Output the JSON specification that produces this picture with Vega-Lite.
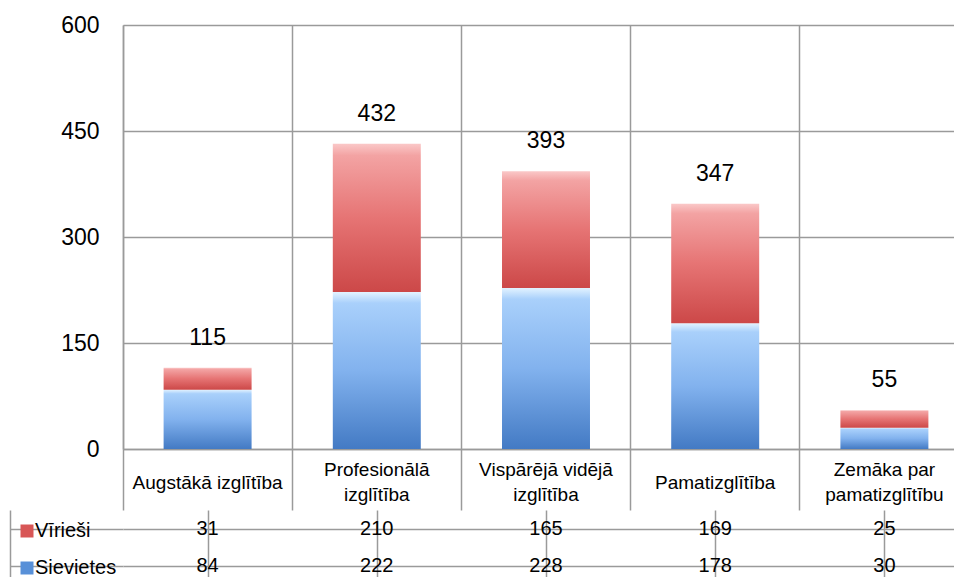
{
  "$schema": "https://vega.github.io/schema/vega-lite/v6.json",
  "background": "white",
  "padding": {"left": 9, "top": 14, "right": -14, "bottom": -7},
  "autosize": {"type": "pad"},
  "bounds": "flush",
  "spacing": 61,
  "config": {
    "view": {"stroke": null},
    "font": "Liberation Sans",
    "text": {"font": "Liberation Sans", "color": "black"}
  },
  "resolve": {"legend": {"color": "independent"}},
  "datasets": {
    "edu": [
      {"cat": "Augstākā izglītība", "series": "Vīrieši", "value": 31},
      {"cat": "Augstākā izglītība", "series": "Sievietes", "value": 84},
      {"cat": "Profesionālā izglītība", "series": "Vīrieši", "value": 210},
      {"cat": "Profesionālā izglītība", "series": "Sievietes", "value": 222},
      {"cat": "Vispārējā vidējā izglītība", "series": "Vīrieši", "value": 165},
      {"cat": "Vispārējā vidējā izglītība", "series": "Sievietes", "value": 228},
      {"cat": "Pamatizglītība", "series": "Vīrieši", "value": 169},
      {"cat": "Pamatizglītība", "series": "Sievietes", "value": 178},
      {"cat": "Zemāka par pamatizglītību", "series": "Vīrieši", "value": 25},
      {"cat": "Zemāka par pamatizglītību", "series": "Sievietes", "value": 30}
    ]
  },
  "vconcat": [
    {
      "width": 846,
      "height": 424,
      "data": {"name": "edu"},
      "transform": [
        {"stack": "value", "groupby": ["cat"], "as": ["v0", "v1"], "sort": [{"field": "series", "order": "ascending"}]}
      ],
      "encoding": {
        "x": {
          "field": "cat", "type": "nominal", "sort": null,
          "scale": {"domain": ["Augstākā izglītība", "Profesionālā izglītība", "Vispārējā vidējā izglītība", "Pamatizglītība", "Zemāka par pamatizglītību"], "paddingInner": 0, "paddingOuter": 0},
          "axis": {
            "title": null, "bandPosition": 0,
            "grid": true, "gridColor": "#9a9a9a", "gridWidth": 1.5,
            "ticks": true, "tickSize": 61, "tickColor": "#9a9a9a", "tickWidth": 1.5,
            "domain": true, "domainColor": "#9a9a9a", "domainWidth": 1.5,
            "labelOffset": 0,
            "labelPadding": {"condition": {"test": "datum.value == 'Augstākā izglītība' || datum.value == 'Pamatizglītība'", "value": -28}, "value": -41},
            "labelBaseline": "middle", "labelAlign": "center", "labelAngle": 0,
            "labelFontSize": 19, "labelLineHeight": 25, "labelColor": "black", "labelFont": "Liberation Sans",
            "labelOverlap": false, "labelBound": false, "labelFlush": false, "labelLimit": 0,
            "labelExpr": "datum.label == 'Profesionālā izglītība' ? ['Profesionālā', 'izglītība'] : datum.label == 'Vispārējā vidējā izglītība' ? ['Vispārējā vidējā', 'izglītība'] : datum.label == 'Zemāka par pamatizglītību' ? ['Zemāka par', 'pamatizglītību'] : datum.label"
          }
        }
      },
      "layer": [
        {
          "transform": [{"filter": "datum.series === 'Sievietes'"}],
          "mark": {
            "type": "bar", "width": {"band": 0.52},
            "color": {"gradient": "linear", "x1": 0, "y1": 0, "x2": 0, "y2": 1,
              "stops": [{"offset": 0, "color": "#e3f3ff"}, {"offset": 0.07, "color": "#a9d0fb"}, {"offset": 0.5, "color": "#82b2ee"}, {"offset": 1, "color": "#437ac4"}]}
          },
          "encoding": {
            "y": {"field": "v1", "type": "quantitative", "scale": {"domain": [0, 600]},
              "axis": {"title": null, "values": [0, 150, 300, 450, 600], "grid": true, "gridColor": "#9a9a9a", "gridWidth": 1.5, "ticks": false, "domain": true, "domainColor": "#9a9a9a", "domainWidth": 1.5, "labelPadding": 24, "labelFontSize": 23, "labelColor": "black", "labelFont": "Liberation Sans"}},
            "y2": {"field": "v0"}
          }
        },
        {
          "transform": [{"filter": "datum.series === 'Vīrieši'"}],
          "mark": {
            "type": "bar", "width": {"band": 0.52},
            "color": {"gradient": "linear", "x1": 0, "y1": 0, "x2": 0, "y2": 1,
              "stops": [{"offset": 0, "color": "#fac8c8"}, {"offset": 0.08, "color": "#f3a3a3"}, {"offset": 0.5, "color": "#e67474"}, {"offset": 1, "color": "#cc4848"}]}
          },
          "encoding": {
            "y": {"field": "v1", "type": "quantitative", "axis": {"title": null}},
            "y2": {"field": "v0"}
          }
        },
        {
          "mark": {"type": "text", "dy": -30, "fontSize": 23, "baseline": "middle", "font": "Liberation Sans", "color": "black"},
          "encoding": {
            "y": {"aggregate": "sum", "field": "value", "type": "quantitative", "axis": {"title": null}},
            "text": {"aggregate": "sum", "field": "value", "type": "quantitative"}
          }
        }
      ]
    },
    {
      "width": 846,
      "height": 74,
      "data": {"name": "edu"},
      "encoding": {
        "x": {
          "field": "cat", "type": "nominal", "sort": null,
          "scale": {"domain": ["Augstākā izglītība", "Profesionālā izglītība", "Vispārējā vidējā izglītība", "Pamatizglītība", "Zemāka par pamatizglītību"], "paddingInner": 0, "paddingOuter": 0},
          "axis": {"title": null, "orient": "top", "bandPosition": 0, "grid": true, "gridColor": "#9a9a9a", "gridWidth": 1.5, "labels": false, "ticks": false, "domain": false}
        },
        "y": {
          "field": "series", "type": "nominal",
          "scale": {"domain": ["Vīrieši", "Sievietes"], "paddingInner": 0, "paddingOuter": 0},
          "axis": {"title": null, "bandPosition": 0, "grid": true, "gridColor": "#9a9a9a", "gridWidth": 1.5,
            "ticks": true, "tickSize": -113, "tickColor": "#9a9a9a", "tickWidth": 1.5, "offset": 113,
            "domain": true, "domainColor": "#9a9a9a", "domainWidth": 1.5, "labels": false}
        }
      },
      "layer": [
        {
          "mark": {"type": "text", "fontSize": 20, "baseline": "middle", "font": "Liberation Sans", "color": "black"},
          "encoding": {"text": {"field": "value", "type": "quantitative"}}
        },
        {
          "mark": {"type": "point", "shape": "square", "filled": true, "opacity": 0},
          "encoding": {
            "color": {
              "field": "series", "type": "nominal",
              "scale": {"domain": ["Vīrieši", "Sievietes"], "range": ["#d85656", "#5890d8"]},
              "legend": {"title": null, "orient": "none", "legendX": -106, "legendY": 11, "padding": 0,
                "symbolType": "square", "symbolSize": 169, "symbolStrokeWidth": 0, "symbolOpacity": 1,
                "labelFontSize": 20, "labelFont": "Liberation Sans", "labelColor": "black", "labelOffset": -2,
                "rowPadding": 17}
            }
          }
        }
      ]
    }
  ]
}
